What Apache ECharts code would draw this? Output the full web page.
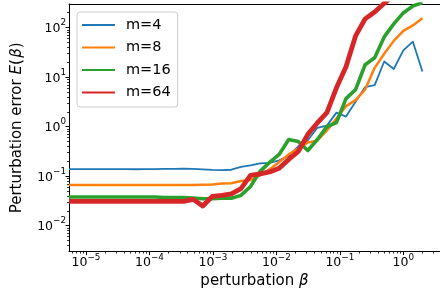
<!DOCTYPE html>
<html><head><meta charset="utf-8">
<script src="https://cdn.jsdelivr.net/npm/echarts@6/dist/echarts.min.js"></script>
<style>html,body{margin:0;padding:0;background:#fff}#c{width:440px;height:294px}</style>
</head><body><div id="c"></div>
<script>
// perturbation beta values (x)
const beta = [5.394e-6, 7.629e-6, 1.079e-5, 1.526e-5, 2.158e-5, 3.052e-5, 4.316e-5, 6.104e-5,
  8.632e-5, 1.221e-4, 1.726e-4, 2.441e-4, 3.453e-4, 4.883e-4, 6.905e-4, 9.766e-4,
  1.381e-3, 1.953e-3, 2.762e-3, 3.906e-3, 5.524e-3, 7.813e-3, 1.105e-2, 1.563e-2,
  2.210e-2, 3.125e-2, 4.419e-2, 6.25e-2, 8.839e-2, 0.125, 0.1768, 0.25,
  0.3536, 0.5, 0.7071, 1, 1.414, 2];
const seriesNames = ['m=4', 'm=8', 'm=16', 'm=64'];
const m4 = [0.139, 0.139, 0.139, 0.139, 0.139, 0.139, 0.139, 0.138, 0.139, 0.139, 0.140, 0.141,
  0.142, 0.141, 0.137, 0.134, 0.133, 0.135, 0.154, 0.165, 0.181, 0.185, 0.208, 0.256,
  0.40, 0.53, 0.95, 1.05, 1.92, 1.6, 3.2, 6.3, 6.9, 20.7, 14.6, 34.7, 52, 13.0];
const m8 = [0.066, 0.066, 0.066, 0.066, 0.066, 0.066, 0.066, 0.066, 0.066, 0.066, 0.066, 0.066,
  0.066, 0.066, 0.067, 0.068, 0.071, 0.072, 0.080, 0.084, 0.104, 0.137, 0.194, 0.275,
  0.36, 0.48, 0.52, 0.84, 1.46, 2.6, 3.43, 5.6, 15.4, 29.6, 54, 86, 111, 155];
const m16 = [0.038, 0.038, 0.038, 0.038, 0.038, 0.038, 0.038, 0.038, 0.038, 0.038, 0.037, 0.037,
  0.037, 0.036, 0.035, 0.035, 0.036, 0.036, 0.041, 0.062, 0.125, 0.19, 0.275, 0.55,
  0.50, 0.33, 0.55, 1.0, 1.21, 3.68, 5.6, 17.8, 24.6, 65, 119, 198, 273, 320];
const m64 = [0.031, 0.031, 0.031, 0.031, 0.031, 0.031, 0.031, 0.031, 0.031, 0.031, 0.031, 0.031,
  0.031, 0.034, 0.025, 0.039, 0.041, 0.044, 0.056, 0.104, 0.111, 0.122, 0.144, 0.218,
  0.315, 0.70, 1.19, 1.92, 6.1, 16.2, 68, 150, 207, 310, 450, 600, 800, 1000];
const xTickExp = [-5, -4, -3, -2, -1, 0];
const yTickExp = [-2, -1, 0, 1, 2];

const X_MIN = Math.log10(5.394e-6), X_MAX = 0.578;
const Y_MIN = Math.log10(0.003), Y_MAX = Math.log10(300);
const FONT = 'DejaVu Sans';

function minorTicks(lo, hi) {
  const out = [];
  for (let e = Math.floor(lo); e <= Math.ceil(hi); e++) {
    for (let k = 2; k <= 9; k++) {
      const v = e + Math.log10(k);
      if (v > lo && v < hi) out.push(v);
    }
  }
  return out;
}
function fmt(v) {
  const e = Math.round(v);
  return '{b|10}{s|' + (e < 0 ? '\u2212' + (-e) : e) + '}';
}
const richX = {
  b: {fontSize: 12.5, fontFamily: FONT, color: '#000'},
  s: {fontSize: 8.8, fontFamily: FONT, color: '#000', padding: [0, 0, 9, 0]}
};
const richY = {
  b: {fontSize: 12.5, fontFamily: FONT, color: '#000', padding: [3, 0, 0, 0]},
  s: {fontSize: 8.8, fontFamily: FONT, color: '#000', padding: [0, 0, 9, 0]}
};
const colors = ['#1f77b4', '#ff7f0e', '#2ca02c', '#d62728'];
const widths = [1.8, 2.5, 3.6, 4.8];
const values = [m4, m8, m16, m64];

const chart = echarts.init(document.getElementById('c'), null, {renderer: 'canvas'});
chart.setOption({
  animation: false,
  backgroundColor: '#fff',
  grid: {left: 69, top: 4, right: -6, bottom: 42},
  legend: {
    orient: 'vertical', left: 77, top: 12,
    itemWidth: 33, itemHeight: 14, itemGap: 7.5,
    padding: [5.5, 7, 7, 4],
    borderColor: '#cccccc', borderWidth: 1, borderRadius: 3,
    backgroundColor: 'rgba(255,255,255,0.8)',
    itemStyle: {opacity: 0},
    textStyle: {fontSize: 14.5, fontFamily: FONT, color: '#000', lineHeight: 14, padding: [0, 0, 0, 6]},
    data: seriesNames
  },
  xAxis: [
    {
      type: 'value', min: X_MIN, max: X_MAX, position: 'bottom',
      axisLine: {show: true, onZero: false, lineStyle: {color: '#000', width: 1}},
      axisTick: {show: true, customValues: xTickExp, length: 3.5, lineStyle: {color: '#000', width: 1}},
      axisLabel: {customValues: xTickExp, formatter: fmt, margin: 2, rich: richX},
      splitLine: {show: false},
      name: 'perturbation {i|\u03b2}', nameLocation: 'middle', nameGap: 19,
      nameTextStyle: {fontSize: 15, fontFamily: FONT, color: '#000',
        rich: {i: {fontSize: 15, fontFamily: FONT, fontStyle: 'italic', color: '#000'}}}
    },
    {
      type: 'value', min: X_MIN, max: X_MAX, position: 'bottom',
      axisLine: {show: false, onZero: false},
      axisTick: {show: true, customValues: minorTicks(X_MIN, X_MAX), length: 2, lineStyle: {color: '#000', width: 0.8}},
      axisLabel: {show: false}, splitLine: {show: false}
    },
    {
      type: 'value', min: X_MIN, max: X_MAX, position: 'top',
      axisLine: {show: true, onZero: false, lineStyle: {color: '#000', width: 1}},
      axisTick: {show: false}, axisLabel: {show: false}, splitLine: {show: false}
    }
  ],
  yAxis: [
    {
      type: 'value', min: Y_MIN, max: Y_MAX, position: 'left',
      axisLine: {show: true, onZero: false, lineStyle: {color: '#000', width: 1}},
      axisTick: {show: true, customValues: yTickExp, length: 3.5, lineStyle: {color: '#000', width: 1}},
      axisLabel: {customValues: yTickExp, formatter: fmt, margin: 3, rich: richY},
      splitLine: {show: false},
      name: 'Perturbation error {i|E}(\u200a{i|\u03b2})', nameLocation: 'middle', nameGap: 44, nameRotate: 90,
      nameTextStyle: {fontSize: 15, fontFamily: FONT, color: '#000',
        rich: {i: {fontSize: 15, fontFamily: FONT, fontStyle: 'italic', color: '#000'}}}
    },
    {
      type: 'value', min: Y_MIN, max: Y_MAX, position: 'left',
      axisLine: {show: false, onZero: false},
      axisTick: {show: true, customValues: minorTicks(Y_MIN, Y_MAX), length: 2, lineStyle: {color: '#000', width: 0.8}},
      axisLabel: {show: false}, splitLine: {show: false}
    },
    {
      type: 'value', min: Y_MIN, max: Y_MAX, position: 'right',
      axisLine: {show: true, onZero: false, lineStyle: {color: '#000', width: 1}},
      axisTick: {show: false}, axisLabel: {show: false}, splitLine: {show: false}
    }
  ],
  series: values.map((vals, s) => ({
    name: seriesNames[s],
    type: 'line',
    xAxisIndex: 0, yAxisIndex: 0,
    symbol: 'none', showSymbol: false,
    clip: true,
    color: colors[s],
    lineStyle: {color: colors[s], width: widths[s], join: 'round', cap: 'butt'},
    data: beta.map((b, i) => [Math.log10(b), Math.log10(vals[i])])
  }))
});
</script>
</body></html>
